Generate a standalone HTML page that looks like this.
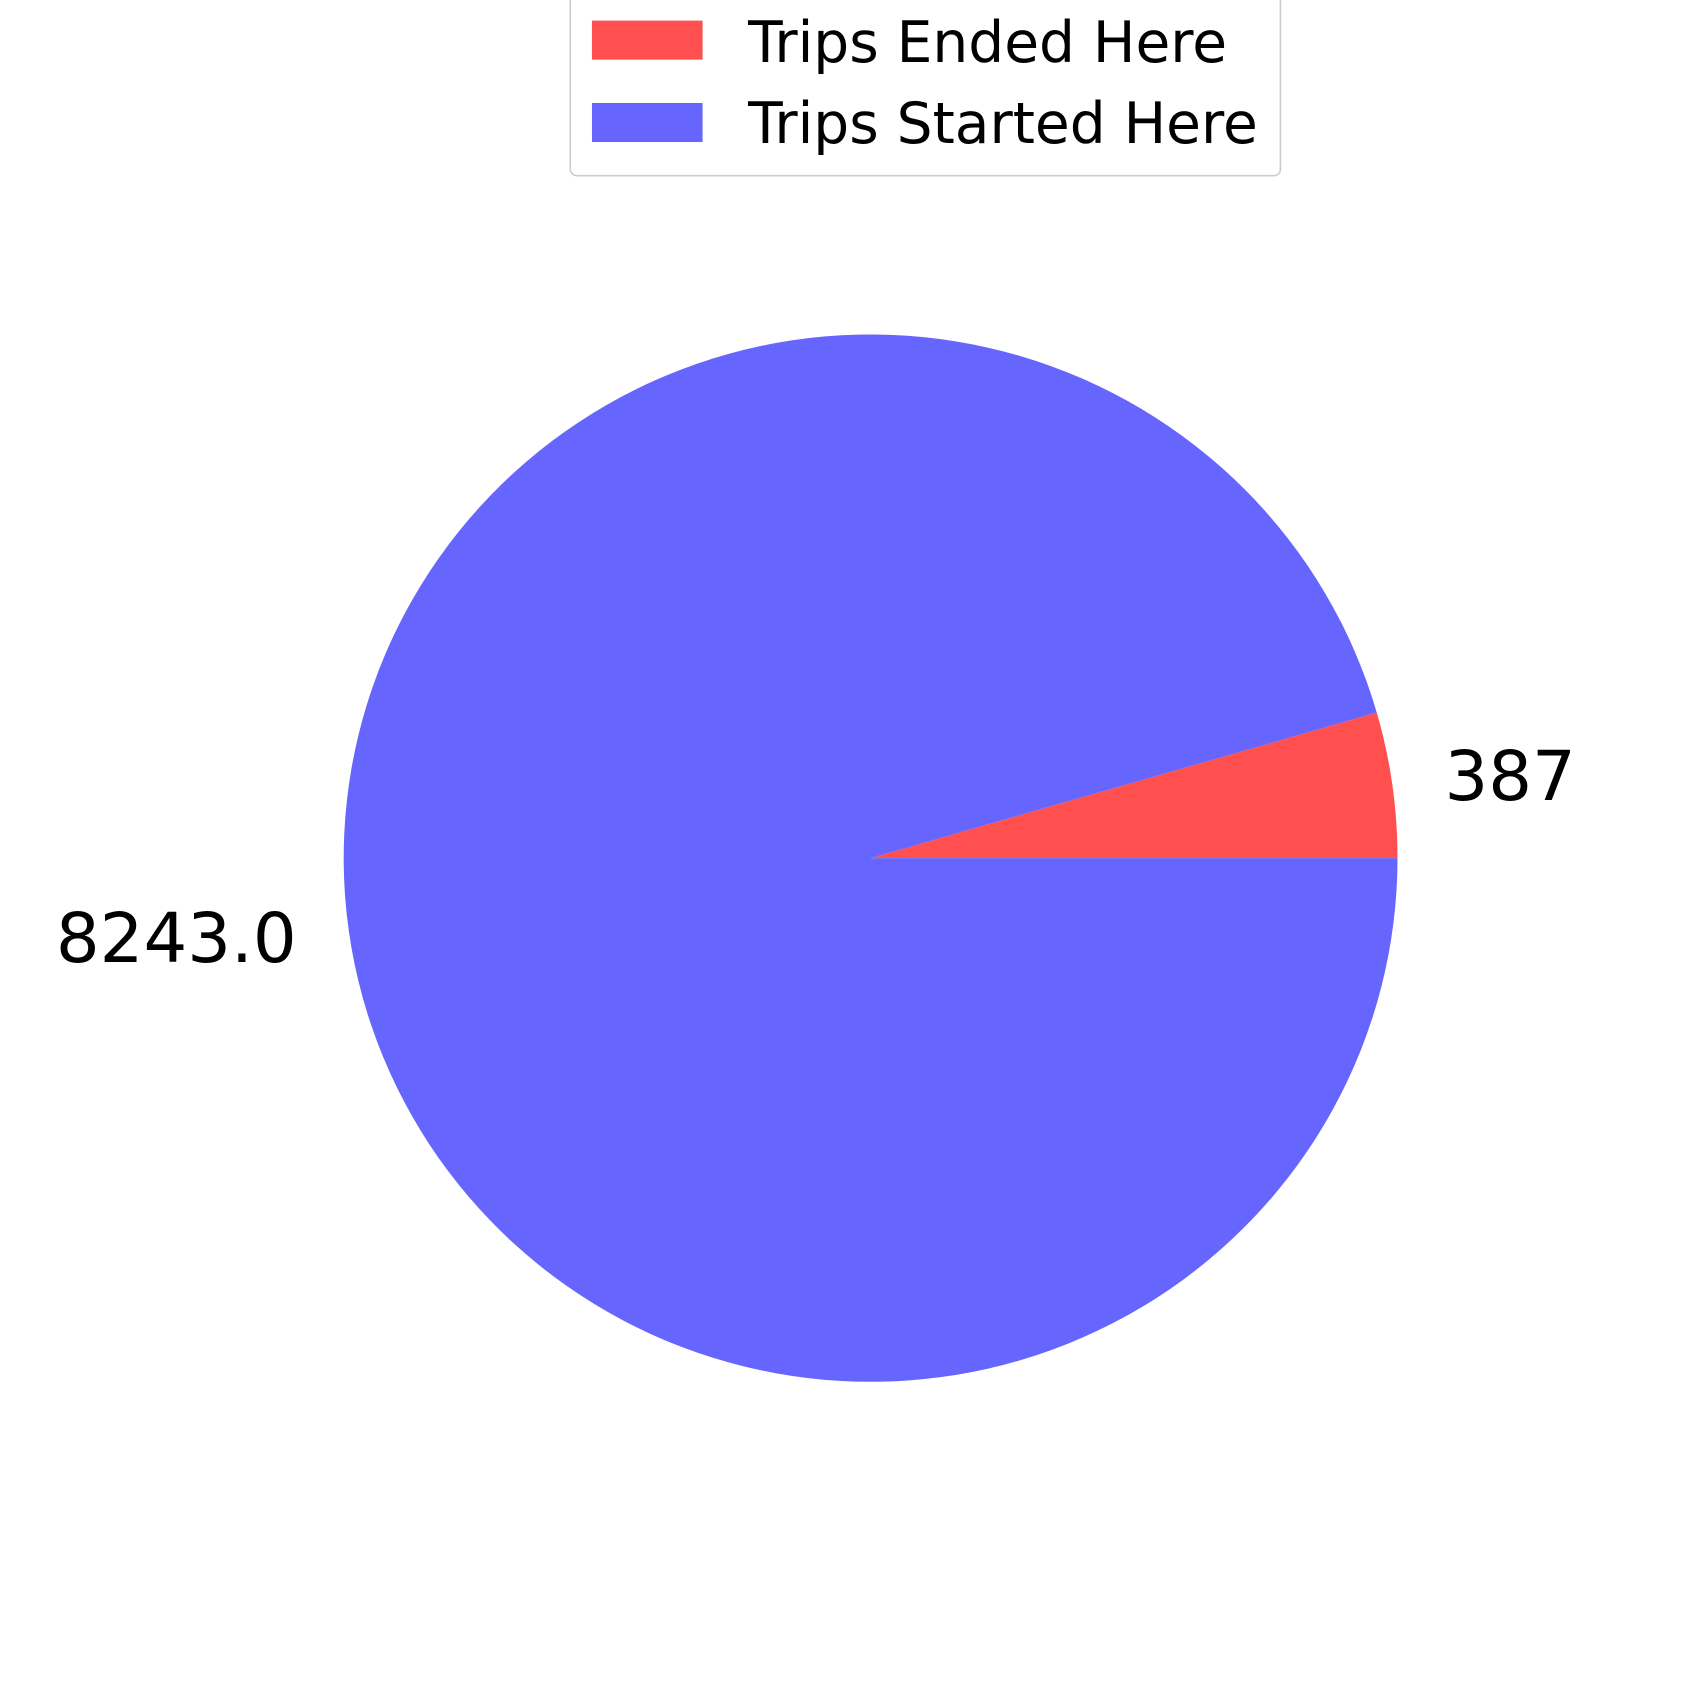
<!DOCTYPE html>
<html><head><meta charset="utf-8"><style>
html,body{margin:0;padding:0;background:#fff;width:1700px;height:1700px;overflow:hidden}
svg{display:block}
text{font-family:"DejaVu Sans","Liberation Sans",sans-serif;fill:#000}
</style></head><body>
<svg id="chart" width="1700" height="1700" viewBox="0 0 1568 1568" xmlns="http://www.w3.org/2000/svg">
<g id="slices"></g>
<g id="labels"></g>
<g>
<rect x="526" y="-8" width="655" height="170" rx="6" fill="#fff" stroke="#ccc" stroke-width="1.5"/>
<rect x="546" y="19" width="102" height="36" fill="#ff4f4f"/>
<text x="690" y="57" font-size="52.2">Trips Ended Here</text>
<rect x="546" y="95" width="102" height="36" fill="#6666ff"/>
<text x="690" y="132" font-size="52.2">Trips Started Here</text>
</g>
</svg>
<script>
const categories = ["Trips Ended Here", "Trips Started Here"];
const values = [387, 8243.0];
const valueLabels = ["387", "8243.0"];
const colors = ["#ff4f4f", "#6666ff"];
const cx = 803, cy = 791.5, rx = 486, ry = 483;
const NS = "http://www.w3.org/2000/svg";
const total = values.reduce((a,b)=>a+b,0);
let a0 = 0;
const sg = document.getElementById('slices'), lg = document.getElementById('labels');
function pt(a, k){ return [cx + k*rx*Math.cos(a), cy - k*ry*Math.sin(a)]; }
values.forEach((v,i)=>{
  const a1 = a0 + v/total*2*Math.PI;
  const [x0,y0] = pt(a0,1), [x1,y1] = pt(a1,1);
  const large = (a1-a0) > Math.PI ? 1 : 0;
  const p = document.createElementNS(NS,'path');
  p.setAttribute('d', `M${cx},${cy} L${x0},${y0} A${rx},${ry} 0 ${large} 0 ${x1},${y1} Z`);
  p.setAttribute('fill', colors[i]);
  
  
  sg.appendChild(p);
  const am = (a0+a1)/2;
  const [lx,ly] = pt(am, 1.1);
  const t = document.createElementNS(NS,'text');
  t.setAttribute('x', lx); t.setAttribute('y', ly);
  t.setAttribute('font-size', '63.5');
  t.setAttribute('dominant-baseline', 'central');
  t.setAttribute('text-anchor', Math.cos(am) >= 0 ? 'start' : 'end');
  t.textContent = valueLabels[i];
  
  
  lg.appendChild(t);
  a0 = a1;
});
</script>
</body></html>
